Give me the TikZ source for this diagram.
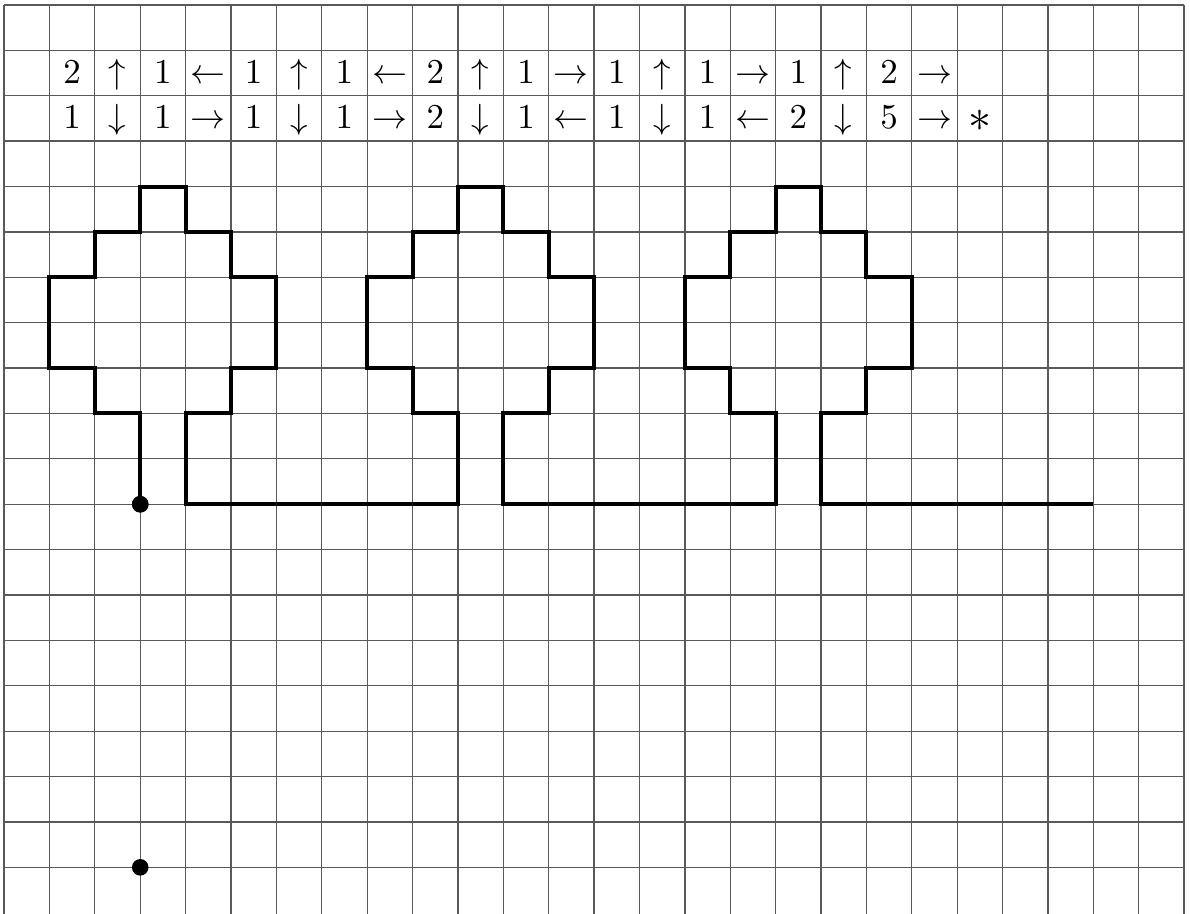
\documentclass[tikz,border=0pt]{standalone}
\begin{document}
\begin{tikzpicture}[x=0.5cm,y=0.5cm,
  gridline/.style={black!65,line width=0.4pt},
  walk/.style={line width=1.25pt,line join=miter},
  dot/.style={circle,fill=black,inner sep=0pt,minimum size=5.2pt},
  cell/.style={inner sep=0pt,text height=0.65em,text depth=0pt,font=\fontsize{10.5}{12}\selectfont}]
\useasboundingbox (-0.09,-20.01) rectangle (26.13,0.11);
\foreach \i in {0,...,26} \draw[gridline] (\i,0) -- (\i,-20.3);
\foreach \j in {0,...,19} \draw[gridline] (0,-\j) -- (26,-\j);
\foreach \s [count=\k] in {2,\uparrow,1,\leftarrow,1,\uparrow,1,\leftarrow,2,\uparrow,1,\rightarrow,1,\uparrow,1,\rightarrow,1,\uparrow,2,\rightarrow}
  \node[cell] (a\k) at (\k+0.5,-1.5) {$\s$};
\foreach \s [count=\k] in {1,\downarrow,1,\rightarrow,1,\downarrow,1,\rightarrow,2,\downarrow,1,\leftarrow,1,\downarrow,1,\leftarrow,2,\downarrow,5,\rightarrow}
  \node[cell] (b\k) at (\k+0.5,-2.5) {$\s$};
\node[inner sep=0pt,font=\fontsize{15}{15}\selectfont] (b21) at (21.5,-2.55) {$*$};
\coordinate (finish) at (24,-11);
\node[dot] (start) at (3,-11) {};
\node[dot] (start2) at (3,-19) {};
\draw[walk] (start.center)
  -- (3,-9) -- (2,-9) -- (2,-8) -- (1,-8) -- (1,-6) -- (2,-6) -- (2,-5) -- (3,-5) -- (3,-4)
  -- (4,-4) -- (4,-5) -- (5,-5) -- (5,-6) -- (6,-6) -- (6,-8) -- (5,-8) -- (5,-9) -- (4,-9) -- (4,-11)
  -- (10,-11)
  -- (10,-9) -- (9,-9) -- (9,-8) -- (8,-8) -- (8,-6) -- (9,-6) -- (9,-5) -- (10,-5) -- (10,-4)
  -- (11,-4) -- (11,-5) -- (12,-5) -- (12,-6) -- (13,-6) -- (13,-8) -- (12,-8) -- (12,-9) -- (11,-9) -- (11,-11)
  -- (17,-11)
  -- (17,-9) -- (16,-9) -- (16,-8) -- (15,-8) -- (15,-6) -- (16,-6) -- (16,-5) -- (17,-5) -- (17,-4)
  -- (18,-4) -- (18,-5) -- (19,-5) -- (19,-6) -- (20,-6) -- (20,-8) -- (19,-8) -- (19,-9) -- (18,-9) -- (18,-11)
  -- (finish);
\node[dot] at (start) {};
\end{tikzpicture}
\end{document}
